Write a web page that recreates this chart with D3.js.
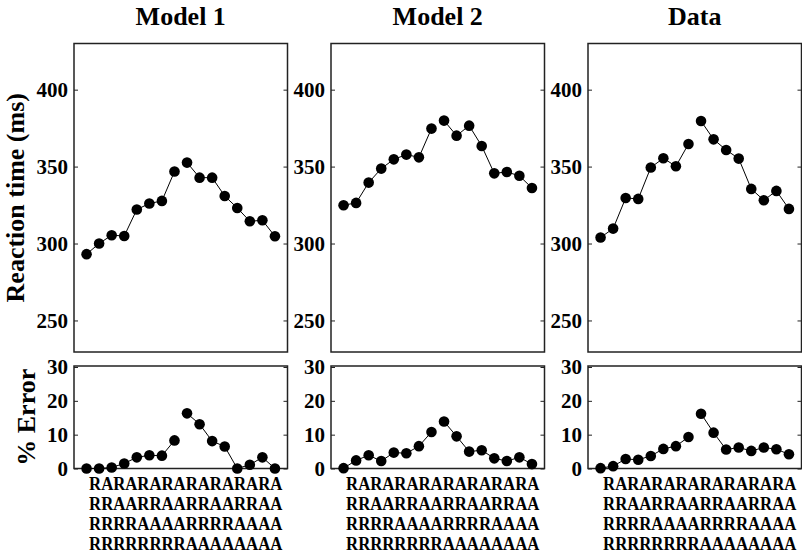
<!DOCTYPE html>
<html>
<head>
<meta charset="utf-8">
<script src="https://cdn.jsdelivr.net/npm/d3@7"></script>
<style>
  html, body { margin: 0; padding: 0; background: #fff; }
  svg { display: block; }
  text { font-family: "Liberation Serif", "Times New Roman", serif; font-weight: bold; fill: #000; }
</style>
</head>
<body>
<svg id="chart" width="802" height="555"></svg>
<script>
// ---------- DATA ----------
const panelTitles = ["Model 1", "Model 2", "Data"];
const sequenceRows = [
  "RARARARARARARARA",
  "RRAARRAARRAARRAA",
  "RRRRAAAARRRRAAAA",
  "RRRRRRRRAAAAAAAA"
];
const rtModel1 = [293.1, 300.0, 305.4, 304.9, 322.1, 326.0, 327.7, 346.8, 352.6, 342.8, 342.8, 330.9, 323.1, 314.5, 315.1, 304.7];
const rtModel2 = [324.9, 326.4, 339.6, 348.7, 354.7, 357.8, 356.0, 374.7, 379.9, 370.1, 376.6, 363.4, 345.6, 346.5, 344.0, 336.1];
const rtData   = [303.9, 309.7, 329.6, 329.0, 349.4, 355.4, 350.2, 364.7, 379.6, 367.7, 360.8, 355.2, 335.5, 328.1, 334.2, 322.5];
const errModel1 = [0.0, 0.0, 0.3, 1.5, 3.3, 3.9, 3.8, 8.3, 16.3, 13.1, 8.1, 6.5, 0.0, 1.1, 3.3, 0.0];
const errModel2 = [0.1, 2.4, 3.9, 2.2, 4.7, 4.5, 6.6, 10.8, 13.9, 9.5, 5.0, 5.4, 3.0, 2.2, 3.3, 1.3];
const errData   = [0.1, 0.7, 2.8, 2.6, 3.7, 5.8, 6.6, 9.3, 16.2, 10.6, 5.6, 6.2, 5.2, 6.2, 5.7, 4.2];
const rtTicks = [250, 300, 350, 400];
const errTicks = [0, 10, 20, 30];
const rtLabel = "Reaction time (ms)";
const errLabel = "% Error";

const rtSeries = [rtModel1, rtModel2, rtData];
const errSeries = [errModel1, errModel2, errData];

// ---------- LAYOUT ----------
const svg = d3.select("#chart");
const panelLefts = [74, 331, 588];
const panelWidth = 213.5;
const rtTop = 43.5, rtBottom = 352;
const errTop = 366, errBottom = 468.5;
const conditionIndex = sequenceRows[0].split("").map((_, i) => i + 1);

const yRT = d3.scaleLinear().domain([229.5, 430]).range([rtBottom, rtTop]);
const yErr = d3.scaleLinear().domain([0, 30.3]).range([errBottom, errTop]);

function drawPanel(g, x, y, values, ticks, width) {
  const yr = y.range();
  const left = g.append("g")
    .call(d3.axisLeft(y).tickValues(ticks).tickSize(-4).tickPadding(6).tickFormat(d3.format("d")));
  left.select(".domain").remove();
  left.selectAll(".tick line").attr("stroke", "#222").attr("stroke-width", 1);
  left.selectAll(".tick text")
    .style("font-family", "'Liberation Serif', serif")
    .style("font-weight", "bold")
    .style("font-size", "21px")
    .attr("fill", "#000");
  const right = g.append("g").attr("transform", `translate(${width},0)`)
    .call(d3.axisRight(y).tickValues(ticks).tickSize(-4).tickFormat(""));
  right.select(".domain").remove();
  right.selectAll(".tick line").attr("stroke", "#222").attr("stroke-width", 1);

  g.append("rect")
    .attr("x", 0).attr("y", yr[1])
    .attr("width", width).attr("height", yr[0] - yr[1])
    .attr("fill", "none").attr("stroke", "#222").attr("stroke-width", 1.5);

  const pts = values.map((v, i) => ({ c: conditionIndex[i], v }));
  const line = d3.line().x(d => x(d.c)).y(d => y(d.v));
  [pts.slice(0, 8), pts.slice(8)].forEach(seg => {
    g.append("path").attr("d", line(seg))
      .attr("fill", "none").attr("stroke", "#000").attr("stroke-width", 1);
  });
  g.selectAll("circle.pt").data(pts).enter().append("circle")
    .attr("class", "pt")
    .attr("cx", d => x(d.c)).attr("cy", d => y(d.v))
    .attr("r", 5.3).attr("fill", "#000");
}

panelTitles.forEach((title, p) => {
  const x = d3.scaleLinear().domain([0, 17]).range([0, panelWidth]);
  const g = svg.append("g").attr("transform", `translate(${panelLefts[p]},0)`);

  g.append("text")
    .attr("x", panelWidth / 2).attr("y", 25)
    .attr("text-anchor", "middle")
    .style("font-size", "26px")
    .text(title);

  drawPanel(g.append("g"), x, yRT, rtSeries[p], rtTicks, panelWidth);
  drawPanel(g.append("g"), x, yErr, errSeries[p], errTicks, panelWidth);

  // condition sequence rows, squeezed horizontally like the original
  sequenceRows.forEach((row, r) => {
    g.append("text")
      .attr("transform", `translate(${x(conditionIndex[0]) + 2.5},${489.5 + r * 20.3}) scale(0.905,1)`)
      .style("font-size", "18.5px")
      .text(row);
  });
});

svg.append("text")
  .attr("transform", `translate(24,${(rtTop + rtBottom) / 2}) rotate(-90)`)
  .attr("text-anchor", "middle")
  .style("font-size", "26px")
  .text(rtLabel);
svg.append("text")
  .attr("transform", `translate(35,${(errTop + errBottom) / 2}) rotate(-90)`)
  .attr("text-anchor", "middle")
  .style("font-size", "26px")
  .text(errLabel);
</script>
</body>
</html>
